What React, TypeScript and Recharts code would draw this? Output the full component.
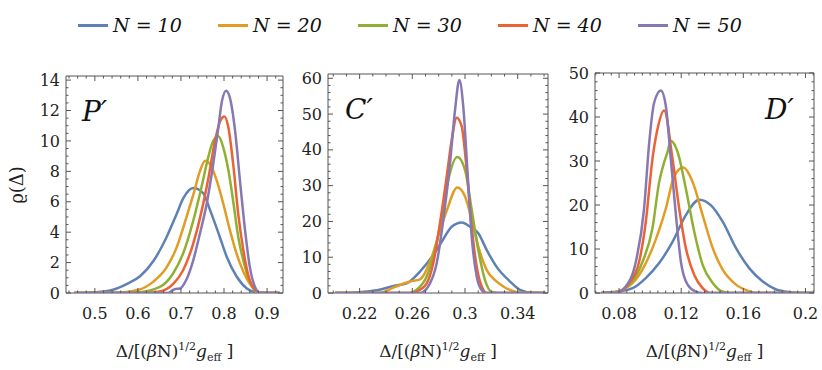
import React from "react";
import { Line, LineChart, ReferenceArea, XAxis, YAxis } from "recharts";

const SERIES = ["N = 10", "N = 20", "N = 30", "N = 40", "N = 50"];
const COLORS = ["#5E81B5", "#E19C24", "#8FB032", "#EB6235", "#8778B3"];
const FRAME = "#555555";
const FONT = "'DejaVu Serif', serif";

// panel P' : [x, density]
const P_N10 = [[0.452, 0], [0.5, 0.05], [0.54, 0.2], [0.575, 0.6], [0.605, 1.1], [0.636, 2.1], [0.667, 3.7], [0.69, 5.2], [0.705, 6.2], [0.729, 6.9], [0.752, 6.55], [0.767, 5.5], [0.79, 3.7], [0.806, 2.4], [0.83, 1.05], [0.853, 0.3], [0.876, 0.05], [0.929, 0]];
const P_N20 = [[0.452, 0], [0.55, 0.02], [0.6, 0.2], [0.636, 0.75], [0.667, 1.7], [0.69, 3.0], [0.713, 5.0], [0.729, 6.5], [0.744, 8.0], [0.756, 8.7], [0.771, 8.3], [0.783, 7.4], [0.798, 5.9], [0.814, 4.1], [0.829, 2.6], [0.845, 1.4], [0.86, 0.6], [0.876, 0.1], [0.89, 0], [0.929, 0]];
const P_N30 = [[0.452, 0], [0.6, 0.05], [0.651, 0.4], [0.682, 1.3], [0.705, 2.6], [0.729, 4.8], [0.748, 7.0], [0.764, 9.0], [0.775, 10.0], [0.787, 10.3], [0.798, 9.6], [0.81, 8.1], [0.822, 5.9], [0.833, 3.7], [0.849, 1.7], [0.864, 0.5], [0.88, 0], [0.929, 0]];
const P_N40 = [[0.452, 0], [0.62, 0], [0.651, 0.1], [0.682, 0.6], [0.705, 1.5], [0.729, 3.3], [0.748, 5.4], [0.764, 7.6], [0.779, 10.0], [0.791, 11.3], [0.801, 11.6], [0.81, 10.9], [0.822, 8.3], [0.833, 5.2], [0.845, 2.8], [0.856, 1.2], [0.872, 0.2], [0.884, 0], [0.929, 0]];
const P_N50 = [[0.452, 0], [0.67, 0], [0.685, 0.25], [0.698, 0.3], [0.713, 0.9], [0.729, 2.2], [0.744, 3.9], [0.76, 5.9], [0.775, 8.5], [0.787, 10.9], [0.795, 12.6], [0.805, 13.3], [0.814, 12.8], [0.826, 10.6], [0.837, 7.4], [0.849, 4.1], [0.86, 1.7], [0.872, 0.4], [0.884, 0], [0.929, 0]];

// panel C'
const C_N10 = [[0.2013, 0], [0.215, 0.1], [0.225, 0.4], [0.235, 0.9], [0.2456, 2.0], [0.2557, 2.7], [0.2658, 6.0], [0.2759, 10.6], [0.2823, 14.3], [0.2899, 18.5], [0.2975, 19.7], [0.3038, 18.5], [0.3101, 16.7], [0.3165, 12], [0.324, 7.3], [0.3342, 3.2], [0.3417, 0.9], [0.352, 0.05], [0.361, 0]];
const C_N20 = [[0.2013, 0], [0.235, 0], [0.2456, 1.5], [0.2583, 3.2], [0.2658, 3.8], [0.2747, 10], [0.281, 17.5], [0.2861, 23], [0.2942, 29.5], [0.3, 27], [0.3051, 20.5], [0.3101, 13], [0.3165, 6.4], [0.3228, 3.6], [0.3291, 1.8], [0.3367, 0.5], [0.3417, 0.05], [0.361, 0]];
const C_N30 = [[0.2013, 0], [0.258, 0], [0.2633, 0.9], [0.2709, 4.6], [0.2772, 12], [0.2823, 21.3], [0.2873, 31.6], [0.2942, 38], [0.3, 34.4], [0.3051, 23.2], [0.3101, 12], [0.3152, 3.6], [0.3203, 0.3], [0.326, 0], [0.361, 0]];
const C_N40 = [[0.2013, 0], [0.258, 0], [0.2633, 0.4], [0.2709, 2.7], [0.2759, 8.3], [0.281, 19.5], [0.2861, 32.5], [0.2899, 42.8], [0.2937, 49], [0.2975, 46.5], [0.3013, 34.4], [0.3051, 18.5], [0.3089, 7.3], [0.3127, 1.8], [0.3165, 0], [0.361, 0]];
const C_N50 = [[0.2013, 0], [0.2658, 0], [0.2734, 2.7], [0.2785, 8.3], [0.2835, 20.4], [0.2886, 36.2], [0.2924, 51], [0.2957, 59.5], [0.2987, 52], [0.3018, 34.4], [0.3051, 15.7], [0.3089, 4.6], [0.3127, 0.8], [0.3165, 0], [0.361, 0]];

// panel D'
const D_N10 = [[0.0686, 0], [0.08, 0.4], [0.0887, 1.1], [0.0972, 3.4], [0.1058, 6.8], [0.1144, 11.6], [0.123, 17.7], [0.1316, 21.2], [0.1392, 19.9], [0.1467, 16.2], [0.1553, 10.2], [0.1639, 5.6], [0.1725, 2.6], [0.1811, 0.8], [0.19, 0.2], [0.2, 0], [0.2045, 0]];
const D_N20 = [[0.0686, 0], [0.0735, 0], [0.0843, 1.1], [0.0929, 4.1], [0.1015, 10.2], [0.1101, 19.2], [0.1155, 26.5], [0.1213, 28.5], [0.1274, 25.2], [0.1338, 17.7], [0.1403, 10.2], [0.1467, 5.3], [0.1553, 1.9], [0.1639, 0.4], [0.168, 0], [0.2045, 0]];
const D_N30 = [[0.0686, 0], [0.0757, 0], [0.0865, 1.9], [0.0951, 7.1], [0.1015, 14.7], [0.1058, 25.2], [0.109, 29.7], [0.1112, 32], [0.1133, 34.6], [0.1177, 32], [0.123, 23.7], [0.1284, 13.9], [0.1338, 6.4], [0.1403, 2.3], [0.1467, 0.3], [0.151, 0], [0.2045, 0]];
const D_N40 = [[0.0686, 0], [0.0778, 0], [0.0865, 2.3], [0.0929, 7.1], [0.0972, 16.2], [0.1015, 30.5], [0.1047, 37.2], [0.109, 41.5], [0.1144, 30.5], [0.1187, 19.2], [0.123, 10.2], [0.1284, 4.1], [0.1338, 1.1], [0.139, 0], [0.2045, 0]];
const D_N50 = [[0.0686, 0], [0.0778, 0], [0.0843, 1.5], [0.0908, 7.1], [0.0961, 19.2], [0.0994, 34.2], [0.1026, 43.3], [0.1069, 46], [0.1101, 42.5], [0.1133, 30.5], [0.1166, 17.7], [0.1198, 7.1], [0.1241, 1.9], [0.1295, 0.3], [0.1338, 0], [0.2045, 0]];

// tick labels
const P_X_TICKS = [0.5, 0.6, 0.7, 0.8, 0.9];
const P_Y_TICKS = [0, 2, 4, 6, 8, 10, 12, 14];
const C_X_TICKS = [0.22, 0.26, 0.3, 0.34];
const C_Y_TICKS = [0, 10, 20, 30, 40, 50, 60];
const D_X_TICKS = [0.08, 0.12, 0.16, 0.2];
const D_Y_TICKS = [0, 10, 20, 30, 40, 50];

const range = (lo: number, hi: number, step: number) => {
  const out: number[] = [];
  for (let v = lo; v <= hi + 1e-9; v += step) out.push(Math.round(v * 1e6) / 1e6);
  return out;
};

const PANELS = [
  {
    title: "P′", series: [P_N10, P_N20, P_N30, P_N40, P_N50],
    xDomain: [0.433, 0.937], yDomain: [0, 14.27],
    xMajor: P_X_TICKS, yMajor: P_Y_TICKS,
    xAll: range(0.44, 0.92, 0.02), yAll: range(0, 14, 0.5),
    left: 0, width: 290, yWidth: 66, right: 7, top: 76,
    titleLeft: 82, titleTop: 98,
  },
  {
    title: "C′", series: [C_N10, C_N20, C_N30, C_N40, C_N50],
    xDomain: [0.196, 0.363], yDomain: [0, 61.2],
    xMajor: C_X_TICKS, yMajor: C_Y_TICKS,
    xAll: range(0.2, 0.36, 0.01), yAll: range(0, 60, 2),
    left: 290, width: 265, yWidth: 38, right: 7, top: 74,
    titleLeft: 345, titleTop: 96,
  },
  {
    title: "D′", series: [D_N10, D_N20, D_N30, D_N40, D_N50],
    xDomain: [0.0645, 0.2055], yDomain: [0, 50],
    xMajor: D_X_TICKS, yMajor: D_Y_TICKS,
    xAll: range(0.065, 0.205, 0.005), yAll: range(0, 50, 2),
    left: 555, width: 267, yWidth: 40, right: 8, top: 73,
    titleLeft: 765, titleTop: 96,
  },
];

const isMajor = (majors: number[], v: number) => majors.some((m) => Math.abs(m - v) < 1e-7);

// bottom ticks also mirror to the top edge, left ticks to the right edge
const makeXTick = (cfg: any) => (props: any) => {
  const { x, y, payload } = props;
  const v = payload.value;
  const major = isMajor(cfg.xMajor, v);
  const len = major ? 5 : 2.5;
  const top = cfg.top;
  return (
    <g>
      <line x1={x} y1={y} x2={x} y2={y - len} stroke={FRAME} strokeWidth={1} />
      <line x1={x} y1={top} x2={x} y2={top + len} stroke={FRAME} strokeWidth={1} />
      {major && (
        <text x={x} y={y + 20} dy="0.35em" textAnchor="middle" fontSize={16} fontFamily={FONT} fill="#222">
          {String(v)}
        </text>
      )}
    </g>
  );
};

const makeYTick = (cfg: any) => (props: any) => {
  const { x, y, payload } = props;
  const v = payload.value;
  const major = isMajor(cfg.yMajor, v);
  const len = major ? 5 : 2.5;
  const right = cfg.width - cfg.right;
  return (
    <g>
      <line x1={x} y1={y} x2={x + len} y2={y} stroke={FRAME} strokeWidth={1} />
      <line x1={right} y1={y} x2={right - len} y2={y} stroke={FRAME} strokeWidth={1} />
      {major && (
        <text x={x - 6} y={y} dy="0.35em" textAnchor="end" fontSize={16} fontFamily={FONT} fill="#222">
          {String(v)}
        </text>
      )}
    </g>
  );
};

function Panel({ cfg }: { cfg: any }) {
  return (
    <div style={{ position: "absolute", left: cfg.left, top: 0 }}>
      <LineChart width={cfg.width} height={370} margin={{ top: cfg.top, right: cfg.right, bottom: 7, left: 0 }}>
        <XAxis
          type="number"
          dataKey="x"
          domain={cfg.xDomain}
          allowDataOverflow
          ticks={cfg.xAll}
          interval={0}
          tickSize={0}
          tickMargin={0}
          tickLine={false}
          axisLine={false}
          height={70}
          tick={makeXTick(cfg)}
        />
        <YAxis
          type="number"
          domain={cfg.yDomain}
          allowDataOverflow
          ticks={cfg.yAll}
          interval={0}
          tickSize={0}
          tickMargin={0}
          tickLine={false}
          axisLine={false}
          width={cfg.yWidth}
          tick={makeYTick(cfg)}
        />
        {cfg.series.map((pts: number[][], i: number) => (
          <Line
            key={SERIES[i]}
            data={pts.map(([x, y]) => ({ x, y }))}
            dataKey="y"
            name={SERIES[i]}
            type="monotone"
            stroke={COLORS[i]}
            strokeWidth={2.5}
            dot={false}
            activeDot={false}
            isAnimationActive={false}
          />
        ))}
        <ReferenceArea
          x1={cfg.xDomain[0]}
          x2={cfg.xDomain[1]}
          y1={cfg.yDomain[0]}
          y2={cfg.yDomain[1]}
          fill="none"
          fillOpacity={0}
          stroke={FRAME}
          strokeWidth={1}
          ifOverflow="visible"
        />
      </LineChart>
      <div
        style={{
          position: "absolute",
          left: cfg.yWidth,
          width: cfg.width - cfg.yWidth - cfg.right,
          top: 340,
          textAlign: "center",
          fontFamily: FONT,
          fontSize: 17,
          color: "#222",
          whiteSpace: "nowrap",
        }}
      >
        Δ/[(<i>β</i>N)<sup style={{ fontSize: 11 }}>1/2</sup><i>g</i><sub style={{ fontSize: 11 }}>eff</sub> ]
      </div>
    </div>
  );
}

export default function App() {
  return (
    <div style={{ position: "absolute", left: 0, top: 0, width: 822, height: 370, background: "#fff", overflow: "hidden" }}>
      <div style={{ position: "absolute", left: 78, top: 14, display: "flex", fontFamily: FONT }}>
        {SERIES.map((s, i) => (
          <div key={s} style={{ width: 140, display: "flex", alignItems: "center" }}>
            <span style={{ width: 30, height: 3, background: COLORS[i], marginRight: 5 }} />
            <span style={{ fontStyle: "italic", fontSize: 19, color: "#111" }}>{s}</span>
          </div>
        ))}
      </div>
      {PANELS.map((p) => (
        <Panel key={p.title} cfg={p} />
      ))}
      {PANELS.map((p) => (
        <div
          key={p.title + "t"}
          style={{ position: "absolute", left: p.titleLeft, top: p.titleTop, fontFamily: FONT, fontStyle: "italic", fontSize: 28, lineHeight: 1, color: "#111" }}
        >
          {p.title}
        </div>
      ))}
      <div
        style={{
          position: "absolute",
          left: 16,
          top: 185,
          transform: "translate(-50%, -50%) rotate(-90deg)",
          fontFamily: FONT,
          fontSize: 18,
          color: "#222",
          whiteSpace: "nowrap",
        }}
      >
        ϱ(Δ)
      </div>
    </div>
  );
}
